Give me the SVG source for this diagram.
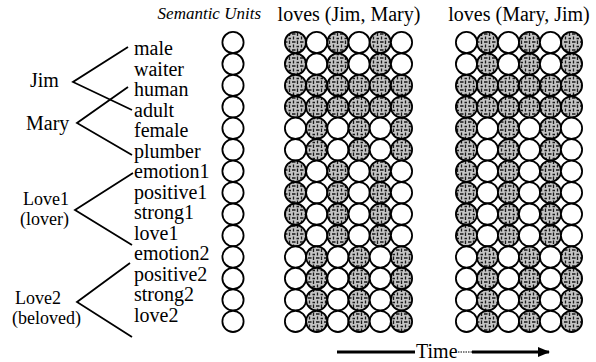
<svg xmlns="http://www.w3.org/2000/svg" width="596" height="362" viewBox="0 0 596 362">
<style>
text{font-family:"Liberation Serif","Times New Roman",serif;fill:#000}
.h{font-size:20px}
.hi{font-size:17px;font-style:italic}
.l{font-size:20px}
.g{font-size:20px}
.g2{font-size:18px}
.e{fill:#fff;stroke:#000;stroke-width:1.8}
.f{fill:url(#tex);stroke:#000;stroke-width:1.8}
.br{fill:none;stroke:#000;stroke-width:1.8}
</style>
<defs>
<pattern id="tex" patternUnits="userSpaceOnUse" width="8" height="8">
<rect width="8" height="8" fill="#c4c4c4"/>
<path d="M1.5 0.5v3.5M4 2h3.5M5.5 4.5v3M0.5 6.5h2.5" stroke="#1a1a1a" stroke-width="1.3"/>
</pattern>
<marker id="ah" markerWidth="12" markerHeight="10" refX="11" refY="5" orient="auto" markerUnits="userSpaceOnUse">
<path d="M0 0L12 5L0 10z" fill="#000"/>
</marker>
</defs>
<rect width="596" height="362" fill="#fff"/>

<text class="hi" x="261" y="19" text-anchor="end">Semantic Units</text>
<text class="h" x="349" y="21" text-anchor="middle">loves (Jim, Mary)</text>
<text class="h" x="519" y="21" text-anchor="middle">loves (Mary, Jim)</text>

<g id="connectors">
<polyline class="br" points="128,47 73,82 132,110"/>
<polyline class="br" points="128,87 77,123 132,155"/>
<polyline class="br" points="133,173 75,210 132,245"/>
<polyline class="br" points="130,263 77,302 132,337"/>
</g>

<g id="jim"><text class="g" x="30" y="87">Jim</text></g>
<g id="mary"><text class="g" x="26" y="130">Mary</text></g>
<g id="love1"><text class="g2" x="23" y="205">Love1</text><text class="g2" x="20" y="225">(lover)</text></g>
<g id="love2"><text class="g2" x="15" y="304">Love2</text><text class="g2" x="12" y="324">(beloved)</text></g>

<g id="semantic-labels">
<text class="l" x="134" y="55">male</text>
<text class="l" x="134" y="75.5">waiter</text>
<text class="l" x="134" y="96">human</text>
<text class="l" x="134" y="116.5">adult</text>
<text class="l" x="134" y="137">female</text>
<text class="l" x="134" y="157.5">plumber</text>
<text class="l" x="134" y="178">emotion1</text>
<text class="l" x="134" y="198.5">positive1</text>
<text class="l" x="134" y="219">strong1</text>
<text class="l" x="134" y="239.5">love1</text>
<text class="l" x="134" y="260">emotion2</text>
<text class="l" x="134" y="280.5">positive2</text>
<text class="l" x="134" y="301">strong2</text>
<text class="l" x="134" y="321.5">love2</text>
</g>

<g id="semantic-units">
<circle class="e" cx="233" cy="42.5" r="10.6"/>
<circle class="e" cx="233" cy="64" r="10.6"/>
<circle class="e" cx="233" cy="85.4" r="10.6"/>
<circle class="e" cx="233" cy="106.9" r="10.6"/>
<circle class="e" cx="233" cy="128.3" r="10.6"/>
<circle class="e" cx="233" cy="149.8" r="10.6"/>
<circle class="e" cx="233" cy="171.2" r="10.6"/>
<circle class="e" cx="233" cy="192.7" r="10.6"/>
<circle class="e" cx="233" cy="214.1" r="10.6"/>
<circle class="e" cx="233" cy="235.6" r="10.6"/>
<circle class="e" cx="233" cy="257" r="10.6"/>
<circle class="e" cx="233" cy="278.5" r="10.6"/>
<circle class="e" cx="233" cy="299.9" r="10.6"/>
<circle class="e" cx="233" cy="321.4" r="10.6"/>
</g>

<g id="grid-jim-mary">
<circle class="f" cx="295.5" cy="42.5" r="10.6"/><circle class="e" cx="316.7" cy="42.5" r="10.6"/><circle class="f" cx="337.9" cy="42.5" r="10.6"/><circle class="e" cx="359.1" cy="42.5" r="10.6"/><circle class="f" cx="380.3" cy="42.5" r="10.6"/><circle class="e" cx="401.5" cy="42.5" r="10.6"/>
<circle class="f" cx="295.5" cy="64" r="10.6"/><circle class="e" cx="316.7" cy="64" r="10.6"/><circle class="f" cx="337.9" cy="64" r="10.6"/><circle class="e" cx="359.1" cy="64" r="10.6"/><circle class="f" cx="380.3" cy="64" r="10.6"/><circle class="e" cx="401.5" cy="64" r="10.6"/>
<circle class="f" cx="295.5" cy="85.4" r="10.6"/><circle class="f" cx="316.7" cy="85.4" r="10.6"/><circle class="f" cx="337.9" cy="85.4" r="10.6"/><circle class="f" cx="359.1" cy="85.4" r="10.6"/><circle class="f" cx="380.3" cy="85.4" r="10.6"/><circle class="f" cx="401.5" cy="85.4" r="10.6"/>
<circle class="f" cx="295.5" cy="106.9" r="10.6"/><circle class="f" cx="316.7" cy="106.9" r="10.6"/><circle class="f" cx="337.9" cy="106.9" r="10.6"/><circle class="f" cx="359.1" cy="106.9" r="10.6"/><circle class="f" cx="380.3" cy="106.9" r="10.6"/><circle class="f" cx="401.5" cy="106.9" r="10.6"/>
<circle class="e" cx="295.5" cy="128.3" r="10.6"/><circle class="f" cx="316.7" cy="128.3" r="10.6"/><circle class="e" cx="337.9" cy="128.3" r="10.6"/><circle class="f" cx="359.1" cy="128.3" r="10.6"/><circle class="e" cx="380.3" cy="128.3" r="10.6"/><circle class="f" cx="401.5" cy="128.3" r="10.6"/>
<circle class="e" cx="295.5" cy="149.8" r="10.6"/><circle class="f" cx="316.7" cy="149.8" r="10.6"/><circle class="e" cx="337.9" cy="149.8" r="10.6"/><circle class="f" cx="359.1" cy="149.8" r="10.6"/><circle class="e" cx="380.3" cy="149.8" r="10.6"/><circle class="f" cx="401.5" cy="149.8" r="10.6"/>
<circle class="f" cx="295.5" cy="171.2" r="10.6"/><circle class="e" cx="316.7" cy="171.2" r="10.6"/><circle class="f" cx="337.9" cy="171.2" r="10.6"/><circle class="e" cx="359.1" cy="171.2" r="10.6"/><circle class="f" cx="380.3" cy="171.2" r="10.6"/><circle class="e" cx="401.5" cy="171.2" r="10.6"/>
<circle class="f" cx="295.5" cy="192.7" r="10.6"/><circle class="e" cx="316.7" cy="192.7" r="10.6"/><circle class="f" cx="337.9" cy="192.7" r="10.6"/><circle class="e" cx="359.1" cy="192.7" r="10.6"/><circle class="f" cx="380.3" cy="192.7" r="10.6"/><circle class="e" cx="401.5" cy="192.7" r="10.6"/>
<circle class="f" cx="295.5" cy="214.1" r="10.6"/><circle class="e" cx="316.7" cy="214.1" r="10.6"/><circle class="f" cx="337.9" cy="214.1" r="10.6"/><circle class="e" cx="359.1" cy="214.1" r="10.6"/><circle class="f" cx="380.3" cy="214.1" r="10.6"/><circle class="e" cx="401.5" cy="214.1" r="10.6"/>
<circle class="f" cx="295.5" cy="235.6" r="10.6"/><circle class="e" cx="316.7" cy="235.6" r="10.6"/><circle class="f" cx="337.9" cy="235.6" r="10.6"/><circle class="e" cx="359.1" cy="235.6" r="10.6"/><circle class="f" cx="380.3" cy="235.6" r="10.6"/><circle class="e" cx="401.5" cy="235.6" r="10.6"/>
<circle class="e" cx="295.5" cy="257" r="10.6"/><circle class="f" cx="316.7" cy="257" r="10.6"/><circle class="e" cx="337.9" cy="257" r="10.6"/><circle class="f" cx="359.1" cy="257" r="10.6"/><circle class="e" cx="380.3" cy="257" r="10.6"/><circle class="f" cx="401.5" cy="257" r="10.6"/>
<circle class="e" cx="295.5" cy="278.5" r="10.6"/><circle class="f" cx="316.7" cy="278.5" r="10.6"/><circle class="e" cx="337.9" cy="278.5" r="10.6"/><circle class="f" cx="359.1" cy="278.5" r="10.6"/><circle class="e" cx="380.3" cy="278.5" r="10.6"/><circle class="f" cx="401.5" cy="278.5" r="10.6"/>
<circle class="e" cx="295.5" cy="299.9" r="10.6"/><circle class="f" cx="316.7" cy="299.9" r="10.6"/><circle class="e" cx="337.9" cy="299.9" r="10.6"/><circle class="f" cx="359.1" cy="299.9" r="10.6"/><circle class="e" cx="380.3" cy="299.9" r="10.6"/><circle class="f" cx="401.5" cy="299.9" r="10.6"/>
<circle class="e" cx="295.5" cy="321.4" r="10.6"/><circle class="f" cx="316.7" cy="321.4" r="10.6"/><circle class="e" cx="337.9" cy="321.4" r="10.6"/><circle class="f" cx="359.1" cy="321.4" r="10.6"/><circle class="e" cx="380.3" cy="321.4" r="10.6"/><circle class="f" cx="401.5" cy="321.4" r="10.6"/>
</g>

<g id="grid-mary-jim">
<circle class="e" cx="466.5" cy="42.5" r="10.6"/><circle class="f" cx="487.5" cy="42.5" r="10.6"/><circle class="e" cx="508.5" cy="42.5" r="10.6"/><circle class="f" cx="529.5" cy="42.5" r="10.6"/><circle class="e" cx="550.5" cy="42.5" r="10.6"/><circle class="f" cx="571.5" cy="42.5" r="10.6"/>
<circle class="e" cx="466.5" cy="64" r="10.6"/><circle class="f" cx="487.5" cy="64" r="10.6"/><circle class="e" cx="508.5" cy="64" r="10.6"/><circle class="f" cx="529.5" cy="64" r="10.6"/><circle class="e" cx="550.5" cy="64" r="10.6"/><circle class="f" cx="571.5" cy="64" r="10.6"/>
<circle class="f" cx="466.5" cy="85.4" r="10.6"/><circle class="f" cx="487.5" cy="85.4" r="10.6"/><circle class="f" cx="508.5" cy="85.4" r="10.6"/><circle class="f" cx="529.5" cy="85.4" r="10.6"/><circle class="f" cx="550.5" cy="85.4" r="10.6"/><circle class="f" cx="571.5" cy="85.4" r="10.6"/>
<circle class="f" cx="466.5" cy="106.9" r="10.6"/><circle class="f" cx="487.5" cy="106.9" r="10.6"/><circle class="f" cx="508.5" cy="106.9" r="10.6"/><circle class="f" cx="529.5" cy="106.9" r="10.6"/><circle class="f" cx="550.5" cy="106.9" r="10.6"/><circle class="f" cx="571.5" cy="106.9" r="10.6"/>
<circle class="f" cx="466.5" cy="128.3" r="10.6"/><circle class="e" cx="487.5" cy="128.3" r="10.6"/><circle class="f" cx="508.5" cy="128.3" r="10.6"/><circle class="e" cx="529.5" cy="128.3" r="10.6"/><circle class="f" cx="550.5" cy="128.3" r="10.6"/><circle class="e" cx="571.5" cy="128.3" r="10.6"/>
<circle class="f" cx="466.5" cy="149.8" r="10.6"/><circle class="e" cx="487.5" cy="149.8" r="10.6"/><circle class="f" cx="508.5" cy="149.8" r="10.6"/><circle class="e" cx="529.5" cy="149.8" r="10.6"/><circle class="f" cx="550.5" cy="149.8" r="10.6"/><circle class="e" cx="571.5" cy="149.8" r="10.6"/>
<circle class="f" cx="466.5" cy="171.2" r="10.6"/><circle class="e" cx="487.5" cy="171.2" r="10.6"/><circle class="f" cx="508.5" cy="171.2" r="10.6"/><circle class="e" cx="529.5" cy="171.2" r="10.6"/><circle class="f" cx="550.5" cy="171.2" r="10.6"/><circle class="e" cx="571.5" cy="171.2" r="10.6"/>
<circle class="f" cx="466.5" cy="192.7" r="10.6"/><circle class="e" cx="487.5" cy="192.7" r="10.6"/><circle class="f" cx="508.5" cy="192.7" r="10.6"/><circle class="e" cx="529.5" cy="192.7" r="10.6"/><circle class="f" cx="550.5" cy="192.7" r="10.6"/><circle class="e" cx="571.5" cy="192.7" r="10.6"/>
<circle class="f" cx="466.5" cy="214.1" r="10.6"/><circle class="e" cx="487.5" cy="214.1" r="10.6"/><circle class="f" cx="508.5" cy="214.1" r="10.6"/><circle class="e" cx="529.5" cy="214.1" r="10.6"/><circle class="f" cx="550.5" cy="214.1" r="10.6"/><circle class="e" cx="571.5" cy="214.1" r="10.6"/>
<circle class="f" cx="466.5" cy="235.6" r="10.6"/><circle class="e" cx="487.5" cy="235.6" r="10.6"/><circle class="f" cx="508.5" cy="235.6" r="10.6"/><circle class="e" cx="529.5" cy="235.6" r="10.6"/><circle class="f" cx="550.5" cy="235.6" r="10.6"/><circle class="e" cx="571.5" cy="235.6" r="10.6"/>
<circle class="e" cx="466.5" cy="257" r="10.6"/><circle class="f" cx="487.5" cy="257" r="10.6"/><circle class="e" cx="508.5" cy="257" r="10.6"/><circle class="f" cx="529.5" cy="257" r="10.6"/><circle class="e" cx="550.5" cy="257" r="10.6"/><circle class="f" cx="571.5" cy="257" r="10.6"/>
<circle class="e" cx="466.5" cy="278.5" r="10.6"/><circle class="f" cx="487.5" cy="278.5" r="10.6"/><circle class="e" cx="508.5" cy="278.5" r="10.6"/><circle class="f" cx="529.5" cy="278.5" r="10.6"/><circle class="e" cx="550.5" cy="278.5" r="10.6"/><circle class="f" cx="571.5" cy="278.5" r="10.6"/>
<circle class="e" cx="466.5" cy="299.9" r="10.6"/><circle class="f" cx="487.5" cy="299.9" r="10.6"/><circle class="e" cx="508.5" cy="299.9" r="10.6"/><circle class="f" cx="529.5" cy="299.9" r="10.6"/><circle class="e" cx="550.5" cy="299.9" r="10.6"/><circle class="f" cx="571.5" cy="299.9" r="10.6"/>
<circle class="e" cx="466.5" cy="321.4" r="10.6"/><circle class="f" cx="487.5" cy="321.4" r="10.6"/><circle class="e" cx="508.5" cy="321.4" r="10.6"/><circle class="f" cx="529.5" cy="321.4" r="10.6"/><circle class="e" cx="550.5" cy="321.4" r="10.6"/><circle class="f" cx="571.5" cy="321.4" r="10.6"/>
</g>

<g id="time-axis">
<line x1="337" y1="352" x2="415" y2="352" stroke="#000" stroke-width="3"/>
<text x="416" y="358" font-size="20">Time</text>
<line x1="458" y1="352" x2="472" y2="352" stroke="#000" stroke-width="1" stroke-dasharray="1.5 1"/>
<line x1="472" y1="352" x2="549" y2="352" stroke="#000" stroke-width="3" marker-end="url(#ah)"/>
</g>
</svg>
